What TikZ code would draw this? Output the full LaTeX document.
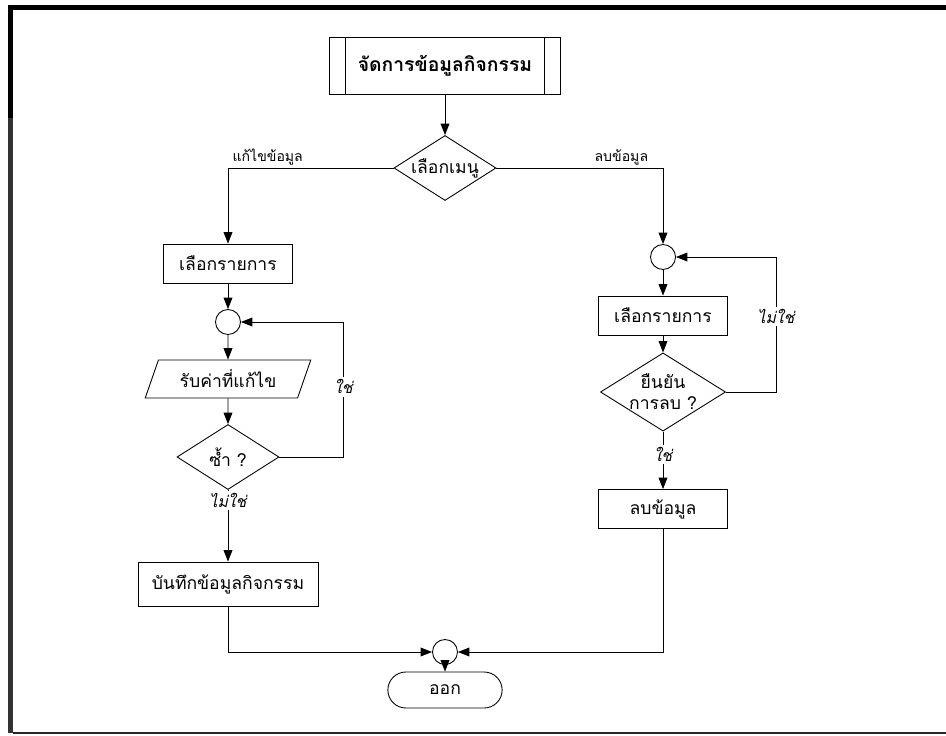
\documentclass[tikz,border=0pt]{standalone}
\usepackage{fontspec}
\setmainfont{Loma}[Script=Thai]
\usetikzlibrary{arrows.meta,shapes.geometric,shapes.misc}
\tikzstyle{proc} = [rectangle, draw, minimum width=2.58cm, minimum height=0.78cm, inner sep=2pt]
\tikzstyle{subproc} = [rectangle, draw, minimum width=4.62cm, minimum height=1.14cm,
    font=\fontsize{11}{13}\selectfont\bfseries,
    path picture={
      \draw[-] ([xshift=0.32cm]path picture bounding box.north west) -- ([xshift=0.32cm]path picture bounding box.south west);
      \draw[-] ([xshift=-0.32cm]path picture bounding box.north east) -- ([xshift=-0.32cm]path picture bounding box.south east);}]
\tikzstyle{dec} = [diamond, draw, aspect=1.6, minimum width=2.04cm, minimum height=1.3cm, inner sep=0pt, align=center]
\tikzstyle{conn} = [circle, draw, minimum size=0.5cm, inner sep=0pt]
\tikzstyle{io} = [trapezium, draw, trapezium left angle=71, trapezium right angle=109,
    trapezium stretches=true, minimum width=3.32cm, minimum height=0.76cm]
\tikzstyle{term} = [rounded rectangle, draw, minimum width=2.52cm, minimum height=0.72cm]
\tikzstyle{tag} = [font=\footnotesize, inner sep=1.5pt]
\tikzstyle{lbl} = [font=\small\itshape, fill=white, inner sep=1.5pt]

\begin{document}
\begin{tikzpicture}[->,>={Triangle[length=6.5pt,width=5pt]},line width=0.5pt]
  \useasboundingbox (-8.9,1.31) rectangle (10.02,-13.39);

  % page frame
  \draw[-,line width=0.1cm] (-8.74,1.16) -- (10.02,1.16);
  \draw[-,line width=0.1cm] (-8.69,1.21) -- (-8.69,-1.05);
  \draw[-,line width=0.1cm,black!80] (-8.69,-1.05) -- (-8.69,-13.35);
  \draw[-,line width=0.04cm,black!85] (-8.64,-13.34) -- (10.02,-13.34);

  \node[subproc] (title)                                   {จัดการข้อมูลกิจกรรม};
  \node[dec]     (menu) [node distance=2.05cm,below of=title] {เลือกเมนู};

  % edit branch
  \node[proc] (sel1) [node distance=1.91cm,below of=menu,xshift=-4.34cm] {เลือกรายการ};
  \node[conn] (c1)   [node distance=1.17cm,below of=sel1] {};
  \node[io]   (edit) [node distance=1.14cm,below of=c1]   {รับค่าที่แก้ไข};
  \node[dec]  (dup)  [node distance=1.56cm,below of=edit] {ซ้ำ ?};
  \node[proc,minimum width=3.6cm,minimum height=0.88cm]
              (save) [node distance=2.54cm,below of=dup]  {บันทึกข้อมูลกิจกรรม};

  % delete branch
  \node[conn] (c2)      [node distance=1.78cm,below of=menu,xshift=4.36cm] {};
  \node[proc] (sel2)    [node distance=1.17cm,below of=c2]      {เลือกรายการ};
  \node[dec]  (confirm) [node distance=1.53cm,below of=sel2]    {ยืนยัน\\การลบ ?};
  \node[proc] (del)     [node distance=2.34cm,below of=confirm] {ลบข้อมูล};

  \node[conn] (c3)   [node distance=11.73cm,below of=title] {};
  \node[term] (exit) [node distance=0.76cm,below of=c3]     {ออก};

  \coordinate (loopA) at ([xshift=1.28cm]dup.east);
  \coordinate (loopB) at ([xshift=1.0cm]confirm.east);

  \draw (title) -- (menu);
  \draw (menu.west) -| node[tag,pos=0.38,above] {แก้ไขข้อมูล} (sel1);
  \draw (menu.east) -| node[tag,pos=0.375,above] {ลบข้อมูล} (c2);
  \draw (sel1) -- (c1);
  \draw (c1) -- (edit);
  \draw (edit) -- (dup);
  \draw (dup) -- node[lbl,pos=0.15] {ไม่ใช่} (save);
  \draw (dup.east) -- (loopA) |- node[lbl,pos=0.26] {ใช่} (c1);
  \draw (c2) -- (sel2);
  \draw (sel2) -- (confirm);
  \draw (confirm) -- node[lbl,pos=0.4] {ใช่} (del);
  \draw (confirm.east) -- (loopB) |- node[lbl,pos=0.28] {ไม่ใช่} (c2);
  \draw (save) |- (c3);
  \draw (del) |- (c3);
  \draw (c3) -- (exit);
\end{tikzpicture}
\end{document}
